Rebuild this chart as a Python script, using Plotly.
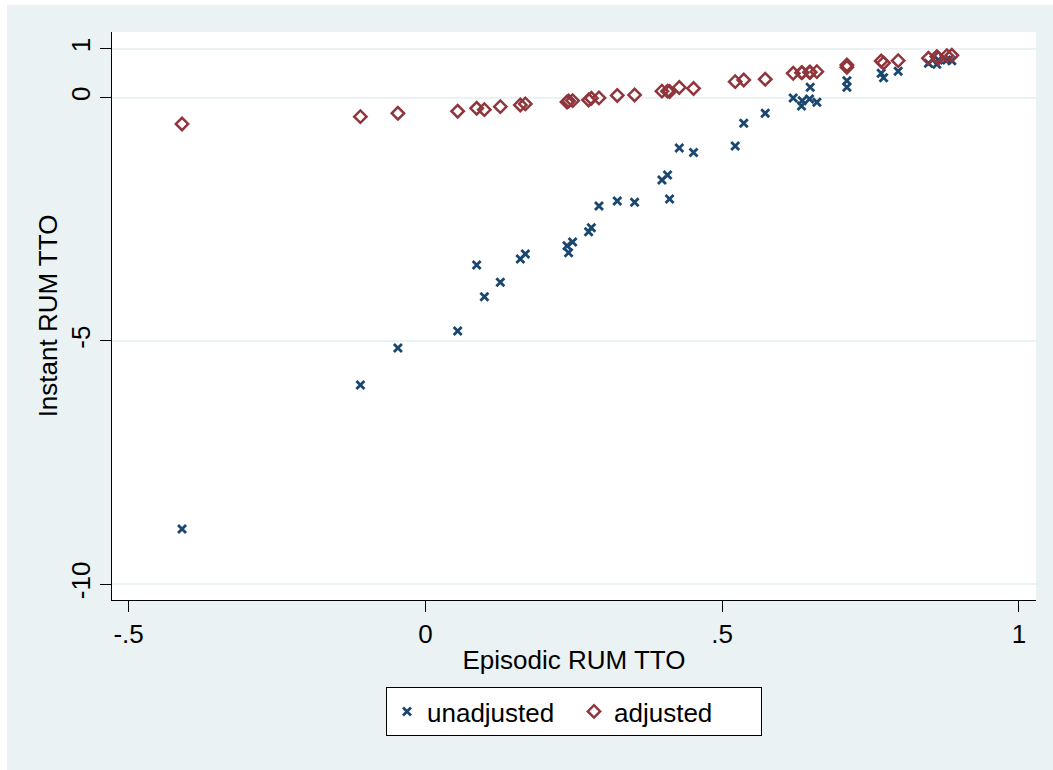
import plotly.graph_objects as go

# Episodic RUM TTO (shared x for both series)
episodic = [-0.410, -0.1095, -0.0463, 0.0544, 0.0864, 0.0994, 0.1263, 0.160, 0.1684,
            0.2386, 0.2413, 0.2481, 0.275, 0.2796, 0.2925, 0.3233, 0.3525, 0.3986,
            0.408, 0.4114, 0.4278, 0.4518, 0.522, 0.5364, 0.5726, 0.6197, 0.6337,
            0.6349, 0.6472, 0.6484, 0.6596, 0.7102, 0.7102, 0.768, 0.772, 0.7966,
            0.8476, 0.8617, 0.8644, 0.8786, 0.887]

unadjusted = [-8.864, -5.904, -5.144, -4.795, -3.438, -4.090, -3.794, -3.315, -3.212,
              -3.042, -3.185, -2.966, -2.754, -2.672, -2.226, -2.123, -2.150, -1.691,
              -1.589, -2.082, -1.034, -1.126, -0.993, -0.526, -0.321, -0.006, -0.171,
              -0.062, -0.027, 0.214, -0.095, 0.349, 0.214, 0.501, 0.411, 0.543,
              0.707, 0.686, 0.775, 0.775, 0.760]

adjusted = [-0.540, -0.390, -0.321, -0.279, -0.218, -0.247, -0.185, -0.150, -0.129,
            -0.088, -0.068, -0.062, -0.047, -0.012, -0.005, 0.045, 0.055, 0.134,
            0.134, 0.125, 0.210, 0.189, 0.329, 0.364, 0.378, 0.501, 0.514,
            0.514, 0.522, 0.522, 0.534, 0.672, 0.625, 0.754, 0.713, 0.760,
            0.810, 0.843, 0.810, 0.863, 0.871]

x_tickvals = [-0.5, 0, 0.5, 1]
x_ticktext = ["-.5", "0", ".5", "1"]
y_tickvals = [-10, -5, 0, 1]
y_ticktext = ["-10", "-5", "0", "1"]

NAVY = "#1A476F"
MAROON = "#90353B"
BG = "#EAF2F3"
FONT = "Liberation Sans, Arial, Helvetica, sans-serif"
FS = 26

fig = go.Figure()
fig.add_trace(go.Scatter(
    x=episodic, y=unadjusted, mode="markers", name="unadjusted",
    marker=dict(symbol="x-thin", size=8, color=NAVY,
                line=dict(color=NAVY, width=2.8)),
))
fig.add_trace(go.Scatter(
    x=episodic, y=adjusted, mode="markers", name="adjusted",
    marker=dict(symbol="diamond-open", size=9.5, color=MAROON,
                line=dict(color=MAROON, width=2.5)),
))

W, H = 1053, 770
L, T = 112, 32
plot_right, plot_bottom = 1036, 600
R, B = W - plot_right, H - plot_bottom
pw, ph = plot_right - L, plot_bottom - T

def px2paperx(p):
    return (p - L) / pw

def px2papery(p):
    return (plot_bottom - p) / ph

# white outer strips (left and top), rest of the page is the light graph region
fig.add_shape(type="rect", xref="paper", yref="paper",
              x0=px2paperx(-10), x1=px2paperx(7),
              y0=px2papery(-10), y1=px2papery(H + 10),
              fillcolor="white", line=dict(width=0), layer="below")
fig.add_shape(type="rect", xref="paper", yref="paper",
              x0=px2paperx(-10), x1=px2paperx(W + 10),
              y0=px2papery(-10), y1=px2papery(5),
              fillcolor="white", line=dict(width=0), layer="below")

fig.update_layout(
    width=W, height=H,
    margin=dict(l=L, r=R, t=T, b=B, pad=0),
    paper_bgcolor=BG,
    plot_bgcolor="white",
    font=dict(family=FONT, size=FS, color="black"),
    showlegend=True,
    legend=dict(
        orientation="h", x=0.5, xanchor="center", y=px2papery(687), yanchor="top",
        bgcolor="white", bordercolor="black", borderwidth=1,
        font=dict(size=FS), entrywidth=142, entrywidthmode="pixels",
    ),
    xaxis=dict(
        range=[-0.528, 1.0288], tickvals=x_tickvals, ticktext=x_ticktext,
        showgrid=False, zeroline=False, showline=True, linecolor="black", linewidth=1,
        ticks="outside", ticklen=11, tickwidth=1, tickcolor="black",
        title=dict(text="Episodic RUM TTO", standoff=2, font=dict(size=FS)),
    ),
    yaxis=dict(
        range=[-10.323, 1.349], tickvals=y_tickvals, ticktext=y_ticktext,
        showgrid=True, gridcolor=BG, gridwidth=2, zeroline=False,
        showline=True, linecolor="black", linewidth=1,
        ticks="outside", ticklen=11, tickwidth=1, tickcolor="black",
        tickangle=-90,
        title=dict(text="Instant RUM TTO", standoff=0, font=dict(size=FS)),
    ),
)

fig.write_html(
    "out.html",
    config={"displayModeBar": False},
    post_script=("document.body.style.margin='0';"
                 "document.body.style.overflow='hidden';"
                 "document.body.style.background='" + BG + "';"),
)
